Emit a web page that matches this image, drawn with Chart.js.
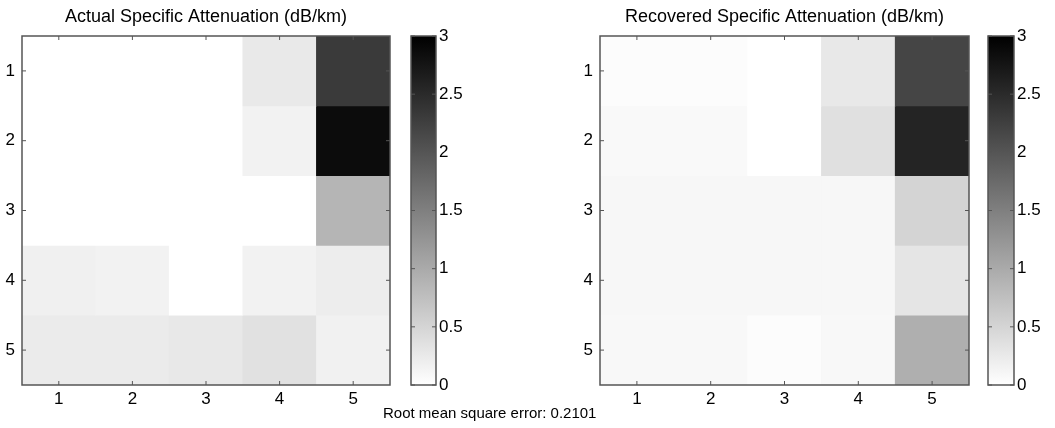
<!DOCTYPE html>
<html>
<head>
<meta charset="utf-8">
<script src="https://cdn.jsdelivr.net/npm/chart.js@4.4.1/dist/chart.umd.min.js"></script>
<style>
  body { margin: 0; background: #fff; }
  #wrap { position: relative; width: 1055px; height: 428px; overflow: hidden; }
  canvas { position: absolute; top: 0; }
  #rms { position: absolute; left: 383px; top: 404px; font: 15px "Liberation Sans", Arial, sans-serif; color: #000; white-space: nowrap; }
</style>
</head>
<body>
<div id="wrap">
  <canvas id="actualMap" style="left:0px" width="400" height="428"></canvas>
  <canvas id="actualBar" style="left:400px" width="70" height="428"></canvas>
  <canvas id="recoveredMap" style="left:560px" width="420" height="428"></canvas>
  <canvas id="recoveredBar" style="left:977px" width="78" height="428"></canvas>
  <div id="rms">Root mean square error: 0.2101</div>
</div>
<script>
const columns = ['1', '2', '3', '4', '5'];
const rows = [1, 2, 3, 4, 5];
const colorbarTicks = [0, 0.5, 1, 1.5, 2, 2.5, 3];
const vmax = 3;

// dB/km, one array per row (row 1 at top)
const actual = [
    [0, 0, 0, 0.26, 2.32],
    [0, 0, 0, 0.15, 2.86],
    [0, 0, 0, 0, 0.87],
    [0.18, 0.15, 0, 0.15, 0.21],
    [0.24, 0.24, 0.27, 0.35, 0.16]
];
const recovered = [
    [0.04, 0.04, 0, 0.27, 2.19],
    [0.07, 0.07, 0, 0.36, 2.58],
    [0.09, 0.09, 0.09, 0.09, 0.51],
    [0.09, 0.09, 0.09, 0.09, 0.31],
    [0.08, 0.08, 0.04, 0.08, 0.94]
];

const FONT = "'Liberation Sans', Arial, sans-serif";
Chart.defaults.font.family = FONT;
Chart.defaults.color = '#000';

function gray(v) {
    const g = Math.round(255 * (1 - Math.min(v, vmax) / vmax));
    return `rgb(${g},${g},${g})`;
}

// box round the plot with small inward ticks, like matlab
const frame = {
    id: 'frame',
    afterDraw(chart) {
        const { ctx, chartArea: a, scales } = chart;
        const len = 4;
        ctx.save();
        ctx.strokeStyle = '#555';
        ctx.lineWidth = 1;
        ctx.beginPath();
        if (scales.x.options.display) {
            scales.x.ticks.forEach((t, i) => {
                const px = scales.x.getPixelForTick(i);
                ctx.moveTo(px, a.top); ctx.lineTo(px, a.top + len);
                ctx.moveTo(px, a.bottom); ctx.lineTo(px, a.bottom - len);
            });
        }
        scales.y.ticks.forEach((t, i) => {
            const py = scales.y.getPixelForTick(i);
            ctx.moveTo(a.left, py); ctx.lineTo(a.left + len, py);
            ctx.moveTo(a.right, py); ctx.lineTo(a.right - len, py);
        });
        ctx.stroke();
        ctx.lineWidth = 1.5;
        ctx.strokeRect(a.left, a.top, a.width, a.height);
        ctx.restore();
    }
};

function heatmap(id, title, values, yWidth, rightPad) {
    const datasets = rows.map((r, i) => ({
        data: columns.map(() => [r - 0.5, r + 0.5]),
        backgroundColor: values[i].map(gray),
        borderWidth: 0,
        grouped: false,
        barPercentage: 1,
        categoryPercentage: 1
    }));
    new Chart(document.getElementById(id), {
        type: 'bar',
        data: { labels: columns, datasets },
        options: {
            responsive: false,
            animation: false,
            layout: { padding: { left: 0, right: rightPad, top: 0, bottom: 0 } },
            plugins: {
                legend: { display: false },
                tooltip: { enabled: false },
                title: {
                    display: true, text: title, fullSize: false,
                    font: { size: 18, weight: 'normal' },
                    padding: { top: 6, bottom: 8.4 }
                }
            },
            scales: {
                x: {
                    grid: { display: false, drawTicks: false },
                    border: { display: false },
                    ticks: { font: { size: 17 }, padding: 4 },
                    afterFit: s => { s.height = 43; }
                },
                y: {
                    min: 0.5, max: 5.5, reverse: true,
                    afterBuildTicks: s => { s.ticks = rows.map(v => ({ value: v })); },
                    grid: { display: false, drawTicks: false },
                    border: { display: false },
                    ticks: { font: { size: 17 }, padding: 7 },
                    afterFit: s => { s.width = yWidth; }
                }
            }
        },
        plugins: [frame]
    });
}

function colorbar(id, yWidth) {
    new Chart(document.getElementById(id), {
        type: 'bar',
        data: {
            labels: [''],
            datasets: [{
                data: [[0, vmax]],
                backgroundColor: c => {
                    const { ctx, chartArea } = c.chart;
                    if (!chartArea) return '#888';
                    const g = ctx.createLinearGradient(0, chartArea.bottom, 0, chartArea.top);
                    g.addColorStop(0, '#fff');
                    g.addColorStop(1, '#000');
                    return g;
                },
                borderWidth: 0,
                barPercentage: 1,
                categoryPercentage: 1
            }]
        },
        options: {
            responsive: false,
            animation: false,
            layout: { padding: { left: 11, right: 0, top: 36, bottom: 43 } },
            plugins: { legend: { display: false }, tooltip: { enabled: false } },
            scales: {
                x: { display: false },
                y: {
                    position: 'right',
                    min: 0, max: vmax,
                    afterBuildTicks: s => { s.ticks = colorbarTicks.map(v => ({ value: v })); },
                    grid: { display: false, drawTicks: false },
                    border: { display: false },
                    ticks: { font: { size: 17 }, padding: 3, callback: v => String(v) },
                    afterFit: s => { s.width = yWidth; }
                }
            }
        },
        plugins: [frame]
    });
}

heatmap('actualMap', 'Actual Specific Attenuation (dB/km)', actual, 22, 10);
colorbar('actualBar', 34);
heatmap('recoveredMap', 'Recovered Specific Attenuation (dB/km)', recovered, 40, 11);
colorbar('recoveredBar', 41);
</script>
</body>
</html>
